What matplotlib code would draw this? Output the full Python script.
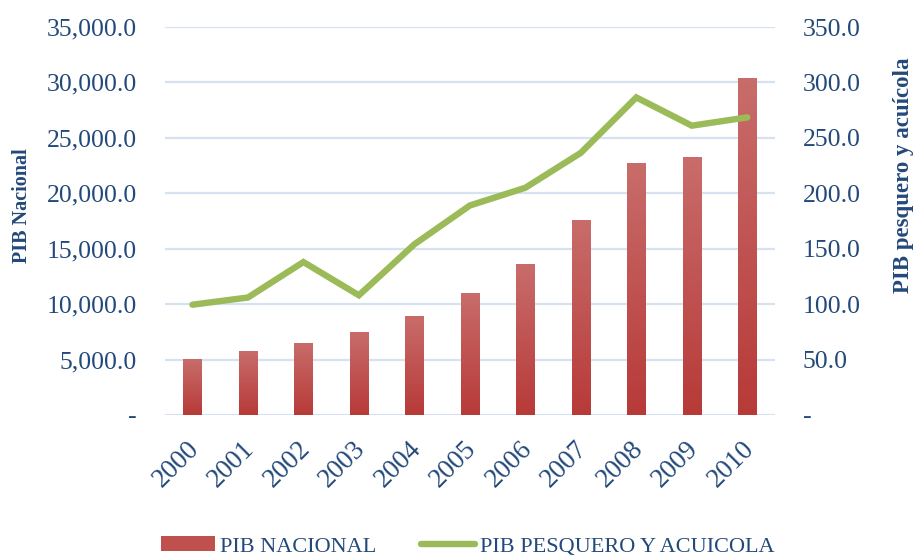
import matplotlib
matplotlib.use("Agg")
import matplotlib.pyplot as plt
import numpy as np
from matplotlib.colors import LinearSegmentedColormap
from matplotlib.ticker import FuncFormatter
from matplotlib.patches import Patch
from matplotlib.lines import Line2D
from matplotlib.transforms import ScaledTranslation

years = ["2000", "2001", "2002", "2003", "2004", "2005",
         "2006", "2007", "2008", "2009", "2010"]
pib_nacional = [5050, 5780, 6500, 7490, 8940, 11010,
                13630, 17600, 22740, 23290, 30420]
pib_pesquero = [99.5, 106.0, 138.0, 108.0, 154.0, 189.0,
                205.0, 236.5, 286.5, 261.0, 268.5]

TEXT = "#23497a"
GRID = "#d7e2f0"
BAR_TOP = "#c86d6b"
BAR_BOTTOM = "#b73a38"
LINE = "#9bbb59"
FONT = "Liberation Serif"

plt.rcParams["font.family"] = [FONT, "DejaVu Serif"]

fig = plt.figure(figsize=(9.15, 5.56), dpi=100)
ax = fig.add_axes([0.180, 0.2536, 0.667, 0.6978])
ax2 = ax.twinx()

x = np.arange(len(years))
bars = ax.bar(x, pib_nacional, width=0.33, color=BAR_BOTTOM, zorder=2)

# vertical gradient fill inside every bar
cmap = LinearSegmentedColormap.from_list("bar", [BAR_BOTTOM, BAR_TOP])
grad = np.linspace(0, 1, 256).reshape(-1, 1)
for rect in bars:
    x0, y0 = rect.get_x(), rect.get_y()
    w, h = rect.get_width(), rect.get_height()
    im = ax.imshow(grad, cmap=cmap, origin="lower", aspect="auto",
                   extent=[x0, x0 + w, y0, y0 + h], zorder=3)
    im.set_clip_path(rect)

ax.set_xlim(-0.5, len(years) - 0.5)
ax.set_ylim(0, 35000)
ax.set_yticks(np.arange(0, 35001, 5000))
ax.yaxis.set_major_formatter(FuncFormatter(
    lambda v, p: "-" if v == 0 else f"{v:,.1f}"))
ax.grid(axis="y", color=GRID, linewidth=1.6, zorder=0)
ax.set_axisbelow(True)

ax2.plot(x, pib_pesquero, color=LINE, linewidth=4.6,
         solid_capstyle="round", solid_joinstyle="miter", zorder=5)
ax2.set_ylim(0, 350)
ax2.set_yticks(np.arange(0, 351, 50))
ax2.yaxis.set_major_formatter(FuncFormatter(
    lambda v, p: "-" if v == 0 else f"{v:.1f}"))

for a in (ax, ax2):
    for s in a.spines.values():
        s.set_visible(False)
    a.tick_params(axis="both", length=0, labelcolor=TEXT)

ax.tick_params(axis="y", pad=20, labelsize=18.5)
ax2.tick_params(axis="y", pad=20, labelsize=18.5)
ax.set_xticks(x)
ax.set_xticklabels(years, rotation=45, ha="right", rotation_mode="anchor")
ax.tick_params(axis="x", pad=14, labelsize=19.5)
shift = ScaledTranslation(-6 / 100, -2 / 100, fig.dpi_scale_trans)
for lbl in ax.get_xticklabels():
    lbl.set_transform(lbl.get_transform() + shift)

ax.set_ylabel("PIB Nacional", fontsize=14.5, fontweight="bold", color=TEXT)
ax.yaxis.set_label_coords(-0.218, 0.539)
ax2.set_ylabel("PIB pesquero y acuícola", fontsize=16.5, fontweight="bold",
               color=TEXT, rotation=90)
ax2.yaxis.set_label_coords(1.193, 0.619)

handles = [Patch(facecolor="#c0504d", edgecolor="none"),
           Line2D([0], [0], color=LINE, linewidth=4.6, solid_capstyle="round")]
fig.legend(handles, ["PIB NACIONAL", "PIB PESQUERO Y ACUICOLA"],
           loc="center", bbox_to_anchor=(0.511, 0.017), ncol=2,
           frameon=False, fontsize=16, labelcolor=TEXT,
           handlelength=2.45, handleheight=0.65, handletextpad=0.22,
           columnspacing=2.0)

fig.savefig("out.png", dpi=100)
